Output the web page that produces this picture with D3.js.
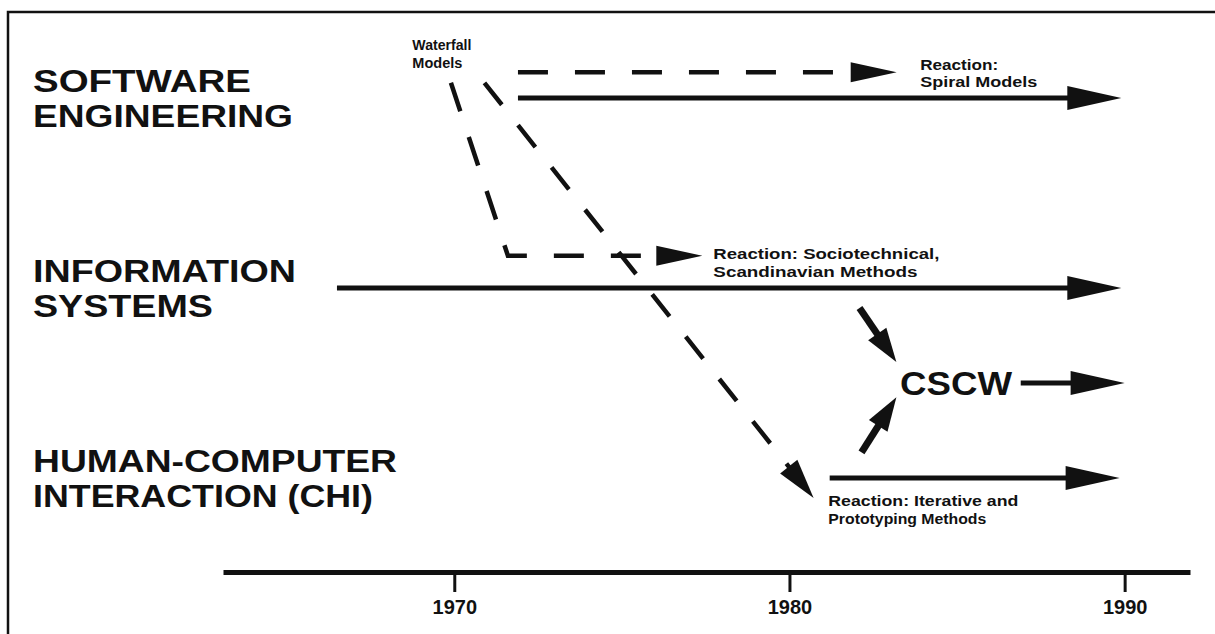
<!DOCTYPE html>
<html>
<head>
<meta charset="utf-8">
<script src="https://cdn.jsdelivr.net/npm/d3@7"></script>
<style>
  html, body { margin: 0; padding: 0; background: #fff; }
  svg { display: block; }
  text { font-family: "Liberation Sans", Arial, Helvetica, sans-serif; font-weight: bold; fill: #111; }
</style>
</head>
<body>
<div id="chart"></div>
<script>
(function () {
  'use strict';

  // --- data: years on x, "lanes" on y (0 = SE, 2 = IS, 3 = CSCW, 4 = HCI)
  var axisYears = [1970, 1980, 1990];

  var fields = [
    {lines: ['SOFTWARE', 'ENGINEERING'], lane: 0},
    {lines: ['INFORMATION', 'SYSTEMS'], lane: 2},
    {lines: ['HUMAN-COMPUTER', 'INTERACTION (CHI)'], lane: 4}
  ];

  var timelines = [
    {name: 'Software Engineering', from: 1971.9, to: 1989.9, lane: 0},
    {name: 'Information Systems', from: 1966.5, to: 1989.9, lane: 2},
    {name: 'CSCW', from: 1986.9, to: 1990.0, lane: 3},
    {name: 'Human-Computer Interaction', from: 1981.2, to: 1989.85, lane: 4}
  ];

  var waterfallLinks = [
    {name: 'to spiral', points: [[1971.9, -0.27], [1983.2, -0.27]]},
    {name: 'to sociotechnical', points: [[1969.9, -0.16], [1971.6, 1.66], [1977.4, 1.66]]},
    {name: 'to iterative', points: [[1970.9, -0.16], [1980.72, 4.21]]}
  ];

  var mergeArrows = [
    {name: 'IS into CSCW', points: [[1982.09, 2.21], [1983.19, 2.78]]},
    {name: 'HCI into CSCW', points: [[1982.15, 3.73], [1983.19, 3.15]]}
  ];

  var notes = [
    {lines: ['Waterfall', 'Models'], year: 1968.75, lane: -0.505},
    {lines: ['Reaction:', 'Spiral Models'], year: 1983.9, lane: -0.295},
    {lines: ['Reaction: Sociotechnical,', 'Scandinavian Methods'], year: 1977.73, lane: 1.695},
    {lines: ['Reaction: Iterative and', 'Prototyping Methods'], year: 1981.16, lane: 4.295}
  ];

  var hub = {text: 'CSCW', year: 1983.3, lane: 3};

  // --- layout
  var width = 1215, height = 634;
  var labelX = 33, labelFont = 31, labelGap = 35;
  var noteFont = 14, noteGap = 17.5;
  var fitWidths = {
    'SOFTWARE': 218, 'ENGINEERING': 260, 'INFORMATION': 263, 'SYSTEMS': 180,
    'HUMAN-COMPUTER': 364, 'INTERACTION (CHI)': 340,
    'Waterfall': 59, 'Models': 50, 'Reaction:': 78, 'Spiral Models': 117,
    'Reaction: Sociotechnical,': 226, 'Scandinavian Methods': 204,
    'Reaction: Iterative and': 190, 'Prototyping Methods': 158,
    'CSCW': 112
  };

  var x = d3.scaleLinear().domain([1963.1, 1991.95]).range([223, 1190]);
  var y = d3.scaleLinear().domain([0, 4]).range([98, 478]);

  var svg = d3.select('#chart').append('svg')
    .attr('width', width)
    .attr('height', height);

  // frame (only top and left edges show in the scan)
  svg.append('path')
    .attr('d', 'M8,' + height + 'V12H' + width)
    .attr('fill', 'none')
    .attr('stroke', '#111')
    .attr('stroke-width', 2.5);

  function toPx(p) { return [x(p[0]), y(p[1])]; }

  // line with a filled triangular head at its last point
  function arrow(g, pts, o) {
    var n = pts.length;
    var a = pts[n - 2], b = pts[n - 1];
    var dx = b[0] - a[0], dy = b[1] - a[1];
    var len = Math.sqrt(dx * dx + dy * dy);
    var ux = dx / len, uy = dy / len;
    var base = [b[0] - ux * o.head, b[1] - uy * o.head];
    var shaft = pts.slice(0, n - 1).concat([[base[0] + ux * 2, base[1] + uy * 2]]);

    g.append('path')
      .attr('d', d3.line()(shaft))
      .attr('fill', 'none')
      .attr('stroke', '#111')
      .attr('stroke-width', o.stroke)
      .attr('stroke-dasharray', o.dash || null);

    g.append('path')
      .attr('d', d3.line()([
        b,
        [base[0] - uy * o.half, base[1] + ux * o.half],
        [base[0] + uy * o.half, base[1] - ux * o.half]
      ]) + 'Z')
      .attr('fill', '#111');
  }

  var marks = svg.append('g');

  timelines.forEach(function (d) {
    arrow(marks, [[x(d.from), y(d.lane)], [x(d.to), y(d.lane)]],
      {stroke: 5, head: 54, half: 12});
  });

  waterfallLinks.forEach(function (d, i) {
    var diag = i === 2;
    arrow(marks, d.points.map(toPx),
      {stroke: 4.5, dash: diag ? '28,26' : '30,27', head: diag ? 40 : 46, half: diag ? 11 : 10});
  });

  mergeArrows.forEach(function (d) {
    arrow(marks, d.points.map(toPx), {stroke: 7, head: 34, half: 11});
  });

  // stretched text, as in the scanned figure
  function fitText(sel, t) {
    sel.text(t)
      .attr('textLength', fitWidths[t])
      .attr('lengthAdjust', 'spacingAndGlyphs');
  }

  fields.forEach(function (d) {
    var top = y(d.lane) - labelGap / 2 + labelFont * 0.38;
    d.lines.forEach(function (t, i) {
      svg.append('text')
        .attr('x', labelX)
        .attr('y', top + i * labelGap)
        .attr('font-size', labelFont)
        .call(fitText, t);
    });
  });

  notes.forEach(function (d) {
    d.lines.forEach(function (t, i) {
      svg.append('text')
        .attr('x', x(d.year))
        .attr('y', y(d.lane) + i * noteGap)
        .attr('font-size', noteFont)
        .call(fitText, t);
    });
  });

  svg.append('text')
    .attr('x', x(hub.year))
    .attr('y', y(hub.lane) + 12)
    .attr('font-size', 33)
    .call(fitText, hub.text);

  // time axis
  var axis = svg.append('g')
    .attr('transform', 'translate(0,572)')
    .call(d3.axisBottom(x)
      .tickValues(axisYears)
      .tickFormat(d3.format('d'))
      .tickSizeInner(20)
      .tickSizeOuter(0)
      .tickPadding(8));

  axis.select('.domain')
    .attr('stroke', '#111')
    .attr('stroke-width', 5);
  axis.selectAll('.tick line')
    .attr('stroke', '#111')
    .attr('stroke-width', 3);
  axis.selectAll('.tick text')
    .attr('font-family', '"Liberation Sans", Arial, sans-serif')
    .attr('font-size', 20)
    .attr('fill', '#111');
})();
</script>
</body>
</html>
